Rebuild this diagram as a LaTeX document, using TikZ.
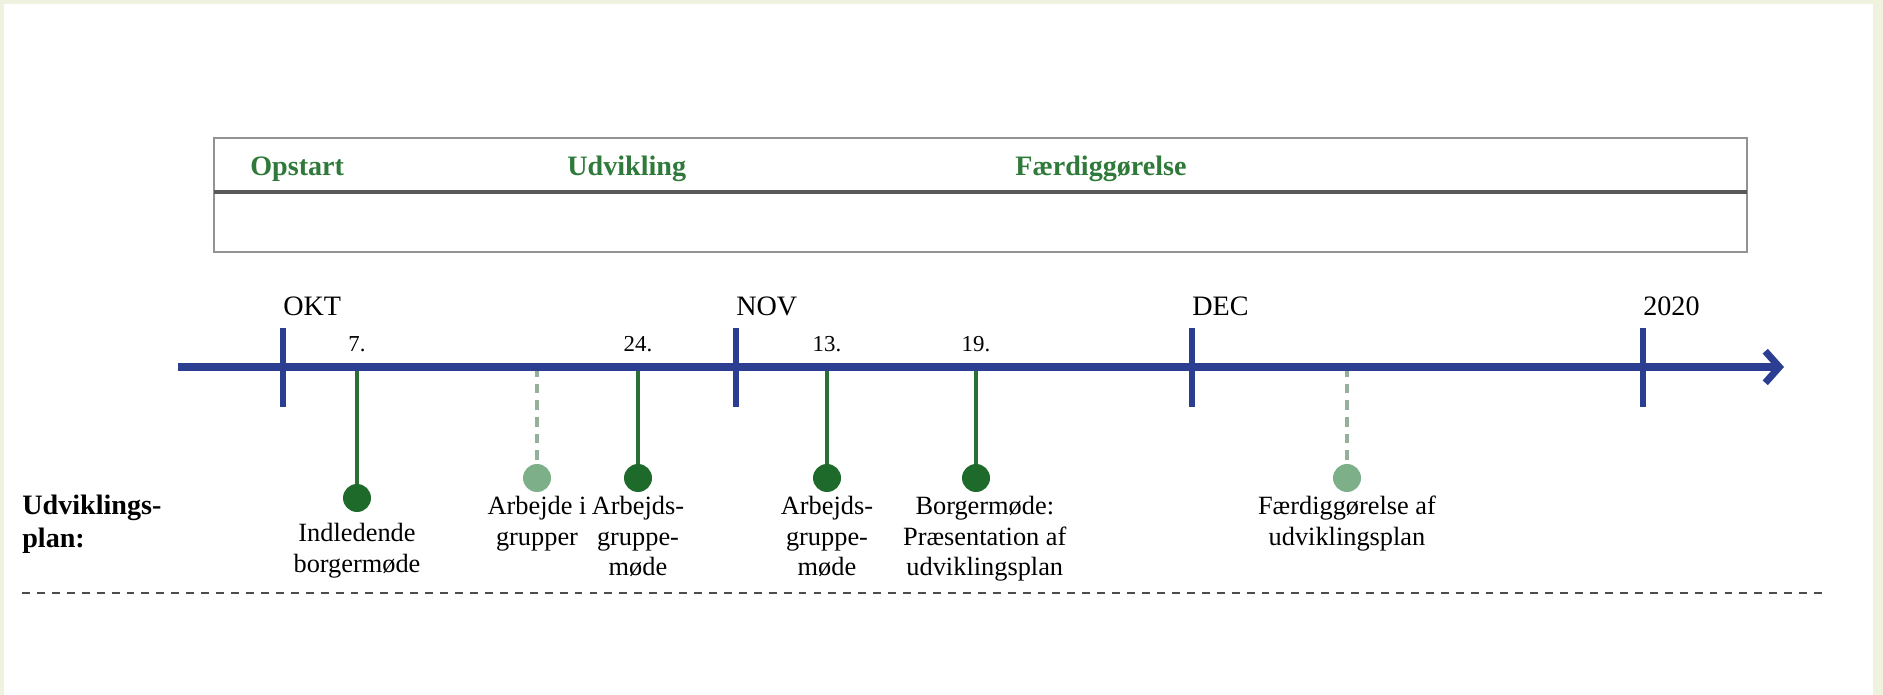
\documentclass[tikz,border=0pt]{standalone}
\usepackage{fontspec}
\setmainfont{Liberation Serif}
\usetikzlibrary{arrows.meta,positioning}
\definecolor{pagebg}{HTML}{EEF2DF}
\definecolor{axisblue}{HTML}{2C3E91}
\definecolor{dotgreen}{HTML}{1D6A2B}
\definecolor{stemgreen}{HTML}{2A7036}
\definecolor{palegreen}{HTML}{7DAF88}
\definecolor{dashgreen}{HTML}{94B09A}
\definecolor{phasegreen}{HTML}{2F7A3A}

\begin{document}
\begin{tikzpicture}[x=0.02cm,y=-0.02cm,
  dot/.style={circle,fill=dotgreen,inner sep=0pt,minimum size=0.56cm},
  paledot/.style={dot,fill=palegreen},
  stem/.style={stemgreen,line width=1.8pt},
  palestem/.style={dashgreen,line width=1.8pt,dash pattern=on 5.5pt off 4pt},
  lbl/.style={align=center,inner sep=1pt,font=\fontsize{15}{17.5}\selectfont},
  day/.style={font=\fontsize{13}{15}\selectfont,inner sep=0pt},
  month/.style={anchor=west,inner sep=0pt,font=\fontsize{16}{18}\selectfont},
  phase/.style={anchor=west,inner sep=0pt,text=phasegreen,font=\fontsize{16}{18}\selectfont\bfseries}]

  \useasboundingbox (0,0) rectangle (1883,695);
  \fill[pagebg] (0,0) rectangle (1883,695);
  \fill[white] (4,4) rectangle (1873,695);

  \draw[gray!85,line width=1.4pt] (214,138) rectangle (1747,252);
  \draw[black!65,line width=2.3pt] (214,192) -- (1747,192);
  \node[phase] (p1) at (250,169) {Opstart};
  \node[phase] (p2) at (567,169) {Udvikling};
  \node[phase] (p3) at (1015,169) {Færdiggørelse};

  \coordinate (a1) at (357,367);
  \coordinate (a2) at (537,367);
  \coordinate (a3) at (638,367);
  \coordinate (a4) at (827,367);
  \coordinate (a5) at (976,367);
  \coordinate (a6) at (1347,367);

  \node[dot] (c1) at (357,498) {};
  \node[paledot] (c2) at (537,478) {};
  \node[dot] (c3) at (638,478) {};
  \node[dot] (c4) at (827,478) {};
  \node[dot] (c5) at (976,478) {};
  \node[paledot] (c6) at (1347,478) {};

  \draw[stem] (a1) -- (c1);
  \draw[palestem] (a2) -- (c2);
  \draw[stem] (a3) -- (c3);
  \draw[stem] (a4) -- (c4);
  \draw[stem] (a5) -- (c5);
  \draw[palestem] (a6) -- (c6);

  \coordinate (ax0) at (178,367);
  \coordinate (ax1) at (1784,367);
  \draw[axisblue,line width=4pt,-{Straight Barb[length=8pt,width=18pt]}] (ax0) -- (ax1);
  \foreach \x/\m [count=\i] in {283/OKT,736/NOV,1192/DEC,1643/2020}{
    \draw[axisblue,line width=3pt] (\x,328) -- (\x,407);
    \node[month] (m\i) at (\x,306) {\m};
  }

  \node[day] (d1) at (357,344) {7.};
  \node[day] (d3) at (638,344) {24.};
  \node[day] (d4) at (827,344) {13.};
  \node[day] (d5) at (976,344) {19.};

  \node[lbl,below=5pt of c1] (l1) {Indledende\\borgermøde};
  \node[lbl,below=1pt of c2] (l2) {Arbejde i\\grupper};
  \node[lbl,below=1pt of c3] (l3) {Arbejds-\\gruppe-\\møde};
  \node[lbl,below=1pt of c4] (l4) {Arbejds-\\gruppe-\\møde};
  \node[lbl,below=1pt of c5,xshift=5pt] (l5) {Borgermøde:\\Præsentation af\\udviklingsplan};
  \node[lbl,below=1pt of c6] (l6) {Færdiggørelse af\\udviklingsplan};

  \node[anchor=west,align=left,inner sep=0pt,font=\fontsize{16}{18.7}\selectfont\bfseries] (plan) at (22,524) {Udviklings-\\plan:};
  \draw[black!70,line width=0.9pt,dash pattern=on 4.5pt off 4pt] (22,593) -- (1823,593);

\end{tikzpicture}
\end{document}
